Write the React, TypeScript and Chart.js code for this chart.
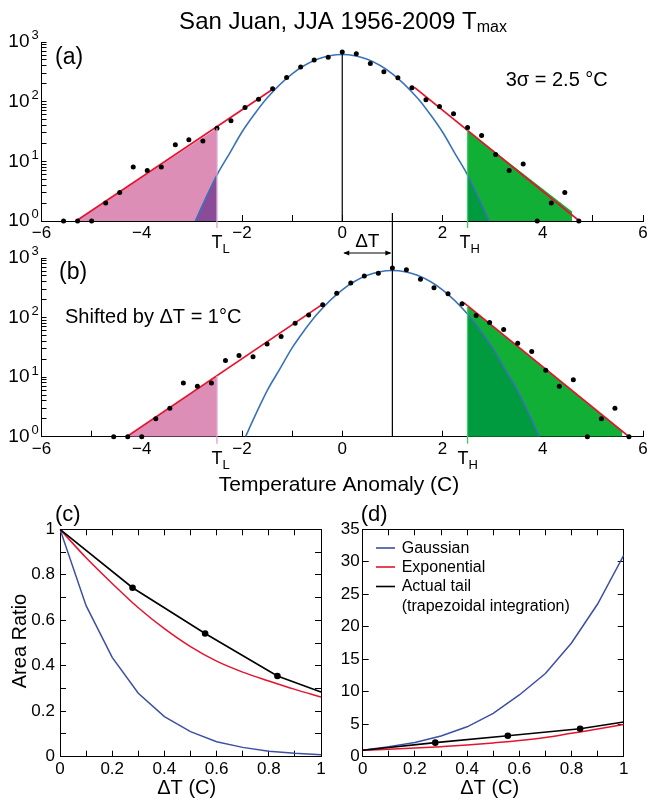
import React, { useEffect, useRef } from 'react';
import { Chart, registerables } from 'chart.js';

Chart.register(...registerables);

const FONT = '"Liberation Sans", Arial, Helvetica, sans-serif';
const BLUE_TOP = '#3A72B8';
const BLUE_BOT = '#3D4FA3';
const RED = '#E5132D';
const PINK = '#DC8EB6';
const PURPLE = '#8A4B98';
const GREEN = '#12AF37';
const DKGREEN = '#009A3F';

// ---------- Panels (a)/(b): JJA Tmax anomaly histogram (bin centre in C, count per bin)
const BIN_CENTERS = [-5.56, -5.28, -5.0, -4.72, -4.44, -4.17, -3.89, -3.61, -3.33, -3.06, -2.78, -2.5, -2.22, -1.94, -1.67, -1.39, -1.11, -0.83, -0.56, -0.28, 0, 0.28, 0.56, 0.83, 1.11, 1.39, 1.67, 1.94, 2.22, 2.5, 2.78, 3.06, 3.33, 3.61, 3.89, 4.17, 4.44, 4.72];
const BIN_COUNTS = [1, 1, 1, 2, 3, 8, 7, 8, 19, 23, 22, 36, 48, 80, 110, 164, 255, 380, 497, 555, 677, 635, 438, 318, 252, 171, 108, 83, 63, 37, 27, 13, 7, 9, 1, 2, 3, 1];

// Gaussian fit (blue), read along the curve of panel (a)
const GAUSS_X = [-2.93, -2.75, -2.5, -2.25, -2, -1.75, -1.5, -1, -0.5, 0, 0.5, 1, 1.5, 1.75, 2, 2.25, 2.5, 2.75, 2.93];
const GAUSS_Y = [1, 2.15, 5.9, 13.5, 31, 62, 115, 292, 512, 617, 512, 292, 115, 62, 31, 13.5, 5.9, 2.15, 1];

// Exponential tail fits (red)
const EXP_A_LEFT_X = [-5.31, -1.35];
const EXP_A_LEFT_Y = [1, 169];
const EXP_A_RIGHT_X = [1.44, 4.73];
const EXP_A_RIGHT_Y = [174, 1];
const EXP_B_LEFT_X = [-4.3, -0.39];
const EXP_B_LEFT_Y = [1, 168];
const EXP_B_RIGHT_X = [2.43, 5.72];
const EXP_B_RIGHT_Y = [177, 1];

// Shaded tail areas
const PINK_A_X = [-5.31, -2.5];
const PINK_A_Y = [1, 36];
const GREEN_A_X = [2.5, 4.59];
const GREEN_A_Y = [33, 1.43];
const PINK_B_X = [-4.3, -2.5];
const PINK_B_Y = [1, 10.5];
const GREEN_B_X = [2.5, 5.59];
const GREEN_B_Y = [158, 1.23];

const T_L = -2.5;
const T_H = 2.5;
const DELTA_T = 1;
const PEAK_LINE_TOP = 677;

const ANOMALY_TICKS = [-6, -4, -2, 0, 2, 4, 6];
const LOG_MINOR_TICKS = [1, 2, 3, 4, 5, 6, 7, 8, 9, 10, 20, 30, 40, 50, 60, 70, 80, 90, 100, 200, 300, 400, 500, 600, 700, 800, 900, 1000];
const LOG_DECADES = [1, 10, 100, 1000];
const DECADE_EXPONENTS = ['0', '1', '2', '3'];

// ---------- Panels (c)/(d): area ratio vs shift
const DT_GRID = [0, 0.1, 0.2, 0.3, 0.4, 0.5, 0.6, 0.7, 0.8, 0.9, 1];
const GAUSS_C = [1, 0.664, 0.437, 0.279, 0.176, 0.11, 0.066, 0.041, 0.0235, 0.0147, 0.009];
const EXP_C = [1, 0.875, 0.762, 0.655, 0.563, 0.484, 0.42, 0.372, 0.333, 0.296, 0.262];
const GAUSS_D = [1, 1.55, 2.2, 3.2, 4.6, 6.67, 9.5, 12.8, 17.5, 23.5, 31.0];
const EXP_D = [1, 1.15, 1.33, 1.55, 1.8, 2.12, 2.48, 2.95, 3.6, 4.25, 4.95];
const ACT_DT = [0, 0.278, 0.556, 0.833, 1];
const ACT_C = [1, 0.743, 0.542, 0.355, 0.284];
const ACT_D = [1, 2.16, 3.23, 4.31, 5.35];
const ACT_POINT_R = [0, 3.3, 3.3, 3.3, 0];
const LEGEND_LABELS = ['Gaussian', 'Exponential', 'Actual tail'];
const LEGEND_NOTE = '(trapezoidal integration)';

const tickFont = { family: FONT, size: 17 };

const xy = (xs: number[], ys: number[]) => xs.map((x, i) => ({ x, y: ys[i] }));

type Run = [string, number, number?];
function drawRuns(ctx: CanvasRenderingContext2D, x: number, y: number, runs: Run[], align: 'left' | 'center' | 'right' = 'left', color = '#000') {
  ctx.save();
  ctx.fillStyle = color;
  ctx.textBaseline = 'alphabetic';
  ctx.textAlign = 'left';
  let total = 0;
  const widths = runs.map(([t, s]) => {
    ctx.font = `${s}px ${FONT}`;
    const w = ctx.measureText(t).width;
    total += w;
    return w;
  });
  let cx = align === 'center' ? x - total / 2 : align === 'right' ? x - total : x;
  runs.forEach(([t, s, dy], i) => {
    ctx.font = `${s}px ${FONT}`;
    ctx.fillText(t, cx, y + (dy || 0));
    cx += widths[i];
  });
  ctx.restore();
}

function drawLogLabels(chart: any) {
  const ys = chart.scales.y;
  const ctx = chart.ctx;
  LOG_DECADES.forEach((v, n) => {
    const py = ys.getPixelForValue(v);
    drawRuns(ctx, 29.5, py + 5.3, [['10', 19]], 'right');
    drawRuns(ctx, 31.5, py - 2.6, [[DECADE_EXPONENTS[n], 13]], 'left');
  });
}

function drawThreshold(chart: any, xv: number, topVal: number, color: string, sub: string, tOffset: number) {
  const ctx = chart.ctx;
  const px = chart.scales.x.getPixelForValue(xv);
  const top = chart.scales.y.getPixelForValue(topVal);
  const bottom = chart.chartArea.bottom;
  ctx.save();
  ctx.strokeStyle = color;
  ctx.lineWidth = 1.3;
  ctx.beginPath();
  ctx.moveTo(px, top);
  ctx.lineTo(px, bottom + 7);
  ctx.stroke();
  ctx.restore();
  drawRuns(ctx, px + tOffset, bottom + 27.3, [['T', 18], [sub, 13, 4.7]]);
}

const fmtSigned = (v: number) => (v < 0 ? '\u2212' + Math.abs(v) : String(v));

function anomalyX(height: number) {
  return {
    type: 'linear',
    min: -6,
    max: 6,
    z: 1,
    ticks: {
      stepSize: 1,
      autoSkip: false,
      maxRotation: 0,
      minRotation: 0,
      padding: 8,
      color: '#000',
      font: tickFont,
      callback: (v: number) => (ANOMALY_TICKS.includes(v) ? fmtSigned(v) : ''),
    },
    grid: { drawOnChartArea: false, tickLength: -6, color: '#000', lineWidth: 1 },
    border: { display: true, color: '#000', width: 1 },
    afterFit: (s: any) => {
      s.height = height;
      s.paddingLeft = 0;
      s.paddingRight = 0;
    },
  };
}

function countsY() {
  return {
    type: 'logarithmic',
    min: 1,
    max: 1000,
    z: 1,
    afterBuildTicks: (s: any) => {
      s.ticks = LOG_MINOR_TICKS.map((v) => ({ value: v }));
    },
    ticks: { display: false },
    grid: { drawOnChartArea: false, tickLength: -5, color: '#000', lineWidth: 1 },
    border: { display: true, color: '#000', width: 1 },
    afterFit: (s: any) => {
      s.width = 41.5;
      s.paddingTop = 0;
      s.paddingBottom = 0;
    },
  };
}

function histDatasets(p: any) {
  const sets: any[] = [
    { data: p.dots, showLine: false, pointRadius: 2.5, pointBackgroundColor: '#000', pointBorderWidth: 0, clip: false },
  ];
  if (p.vline) sets.push({ data: p.vline, borderColor: '#000', borderWidth: 1.2, pointRadius: 0 });
  sets.push(
    { data: p.redL, borderColor: RED, borderWidth: 1.7, pointRadius: 0 },
    { data: p.redR, borderColor: RED, borderWidth: 1.7, pointRadius: 0 },
    { data: p.gauss, borderColor: BLUE_TOP, borderWidth: 1.6, pointRadius: 0, cubicInterpolationMode: 'monotone' },
  );
  if (p.purple) sets.push({ data: p.purple, borderWidth: 0, borderColor: 'rgba(0,0,0,0)', backgroundColor: PURPLE, fill: 'start', pointRadius: 0, cubicInterpolationMode: 'monotone' });
  sets.push(
    { data: p.dkgreen, borderWidth: 0, borderColor: 'rgba(0,0,0,0)', backgroundColor: DKGREEN, fill: 'start', pointRadius: 0, cubicInterpolationMode: 'monotone' },
    { data: p.pink, borderWidth: 0, borderColor: 'rgba(0,0,0,0)', backgroundColor: PINK, fill: 'start', pointRadius: 0 },
    { data: p.green, borderWidth: 0, borderColor: 'rgba(0,0,0,0)', backgroundColor: GREEN, fill: 'start', pointRadius: 0 },
  );
  return sets;
}

function baseOptions(padding: any, scales: any) {
  return {
    animation: false,
    responsive: false,
    devicePixelRatio: 1,
    events: [],
    layout: { padding },
    plugins: { legend: { display: false }, tooltip: { enabled: false }, title: { display: false } },
    scales,
  };
}

function configA() {
  const purple = GAUSS_X.map((x, i) => ({ x, y: GAUSS_Y[i] })).filter((p) => p.x <= T_L);
  const dkgreen = GAUSS_X.map((x, i) => ({ x, y: GAUSS_Y[i] })).filter((p) => p.x >= T_H);
  const ann = {
    id: 'annA',
    afterDatasetsDraw(chart: any) {
      drawThreshold(chart, T_L, PINK_A_Y[1], '#D9A2CE', 'L', -5.5);
      drawThreshold(chart, T_H, GREEN_A_Y[0], '#43C963', 'H', -8);
    },
    afterDraw(chart: any) {
      const ctx = chart.ctx;
      drawRuns(ctx, 343, 28.7, [['San Juan, JJA 1956-2009 T', 24], ['max', 16, 3.5]], 'center');
      drawRuns(ctx, 55, 63.5, [['(a)', 23]]);
      drawRuns(ctx, 505.7, 86, [['3\u03c3 = 2.5 \u00b0C', 20]]);
      drawLogLabels(chart);
    },
  };
  return {
    type: 'line',
    data: {
      datasets: histDatasets({
        dots: xy(BIN_CENTERS, BIN_COUNTS),
        vline: [{ x: 0, y: 1 }, { x: 0, y: PEAK_LINE_TOP }],
        redL: xy(EXP_A_LEFT_X, EXP_A_LEFT_Y),
        redR: xy(EXP_A_RIGHT_X, EXP_A_RIGHT_Y),
        gauss: xy(GAUSS_X, GAUSS_Y),
        purple,
        dkgreen,
        pink: xy(PINK_A_X, PINK_A_Y),
        green: xy(GREEN_A_X, GREEN_A_Y),
      }),
    },
    options: baseOptions({ left: 0, right: 2, top: 42, bottom: 0 }, { x: anomalyX(260 - 221), y: countsY() }),
    plugins: [ann],
  };
}

function configB() {
  const gx = GAUSS_X.map((x) => x + DELTA_T);
  const dkgreen = gx.map((x, i) => ({ x, y: GAUSS_Y[i] })).filter((p) => p.x >= T_H);
  const ann = {
    id: 'annB',
    afterDatasetsDraw(chart: any) {
      const ctx = chart.ctx;
      const xs = chart.scales.x;
      const ys = chart.scales.y;
      drawThreshold(chart, T_L, PINK_B_Y[1], '#D9A2CE', 'L', -5.5);
      drawThreshold(chart, T_H, GREEN_B_Y[0], '#43C963', 'H', -10);
      // shifted-mean vertical line
      const px1 = xs.getPixelForValue(DELTA_T);
      const px0 = xs.getPixelForValue(0);
      ctx.save();
      ctx.strokeStyle = '#000';
      ctx.lineWidth = 1.2;
      ctx.beginPath();
      ctx.moveTo(px1, ys.getPixelForValue(1));
      ctx.lineTo(px1, chart.chartArea.top - 45);
      ctx.stroke();
      // delta-T arrow
      const ay = chart.chartArea.top - 5;
      ctx.lineWidth = 1;
      ctx.beginPath();
      ctx.moveTo(px0 + 2, ay);
      ctx.lineTo(px1 - 2, ay);
      ctx.stroke();
      ctx.fillStyle = '#000';
      ctx.beginPath();
      ctx.moveTo(px0 + 1, ay);
      ctx.lineTo(px0 + 7, ay - 2.5);
      ctx.lineTo(px0 + 7, ay + 2.5);
      ctx.closePath();
      ctx.fill();
      ctx.beginPath();
      ctx.moveTo(px1 - 1, ay);
      ctx.lineTo(px1 - 7, ay - 2.5);
      ctx.lineTo(px1 - 7, ay + 2.5);
      ctx.closePath();
      ctx.fill();
      ctx.restore();
      drawRuns(ctx, (px0 + px1) / 2, 42.3, [['\u0394T', 19]], 'center');
    },
    afterDraw(chart: any) {
      const ctx = chart.ctx;
      drawRuns(ctx, 59, 74, [['(b)', 23]]);
      drawRuns(ctx, 65, 117.7, [['Shifted by \u0394T = 1\u00b0C', 20]]);
      drawRuns(ctx, 339, 286, [['Temperature Anomaly (C)', 21]], 'center');
      drawLogLabels(chart);
    },
  };
  return {
    type: 'line',
    data: {
      datasets: histDatasets({
        dots: BIN_CENTERS.map((x, i) => ({ x: x + DELTA_T, y: BIN_COUNTS[i] })),
        redL: xy(EXP_B_LEFT_X, EXP_B_LEFT_Y),
        redR: xy(EXP_B_RIGHT_X, EXP_B_RIGHT_Y),
        gauss: xy(gx, GAUSS_Y),
        dkgreen,
        pink: xy(PINK_B_X, PINK_B_Y),
        green: xy(GREEN_B_X, GREEN_B_Y),
      }),
    },
    options: baseOptions({ left: 0, right: 2, top: 53, bottom: 0 }, { x: anomalyX(295 - 231.7), y: countsY() }),
    plugins: [ann],
  };
}

const dtLabel = (v: number) => {
  const k = Math.round(v * 10);
  if (k % 2 !== 0) return '';
  if (k === 0) return '0';
  if (k === 10) return '1';
  return (k / 10).toFixed(1);
};

function ratioScales(yMax: number, yStep: number, yLabel: (v: number) => string, yWidth: number, xHeight: number, yPad: number) {
  const grid = () => ({ drawOnChartArea: false, tickLength: -6, color: '#000', lineWidth: 1 });
  const border = () => ({ display: true, color: '#000', width: 1 });
  return {
    x: {
      type: 'linear', position: 'bottom', min: 0, max: 1, z: 1,
      ticks: { stepSize: 0.1, autoSkip: false, maxRotation: 0, minRotation: 0, padding: 8, color: '#000', font: tickFont, callback: dtLabel },
      grid: grid(), border: border(),
      afterFit: (s: any) => { s.height = xHeight; s.paddingLeft = 0; s.paddingRight = 0; },
    },
    x2: {
      type: 'linear', position: 'top', min: 0, max: 1, z: 1,
      ticks: { stepSize: 0.1, display: false, autoSkip: false },
      grid: grid(), border: border(),
      afterFit: (s: any) => { s.height = 0; s.paddingLeft = 0; s.paddingRight = 0; },
    },
    y: {
      type: 'linear', position: 'left', min: 0, max: yMax, z: 1,
      ticks: { stepSize: yStep, autoSkip: false, padding: yPad, color: '#000', font: tickFont, callback: yLabel },
      grid: grid(), border: border(),
      afterFit: (s: any) => { s.width = yWidth; s.paddingTop = 0; s.paddingBottom = 0; },
    },
    y2: {
      type: 'linear', position: 'right', min: 0, max: yMax, z: 1,
      ticks: { stepSize: yStep, display: false, autoSkip: false },
      grid: grid(), border: border(),
      afterFit: (s: any) => { s.width = 0; s.paddingTop = 0; s.paddingBottom = 0; },
    },
  };
}

function ratioDatasets(gauss: number[], exp: number[], act: number[]) {
  return [
    { label: LEGEND_LABELS[2], data: xy(ACT_DT, act), borderColor: '#000', backgroundColor: '#000', borderWidth: 1.6, pointRadius: ACT_POINT_R, pointBackgroundColor: '#000', pointBorderWidth: 0, clip: false },
    { label: LEGEND_LABELS[1], data: xy(DT_GRID, exp), borderColor: RED, borderWidth: 1.5, pointRadius: 0, cubicInterpolationMode: 'monotone' },
    { label: LEGEND_LABELS[0], data: xy(DT_GRID, gauss), borderColor: BLUE_BOT, borderWidth: 1.5, pointRadius: 0 },
  ];
}

function configC() {
  const ann = {
    id: 'annC',
    afterDraw(chart: any) {
      const ctx = chart.ctx;
      drawRuns(ctx, 55, 30.6, [['(c)', 22]]);
      drawRuns(ctx, 186.7, 304, [['\u0394T (C)', 20]], 'center');
      ctx.save();
      ctx.translate(26, 151);
      ctx.rotate(-Math.PI / 2);
      drawRuns(ctx, 0, 0, [['Area Ratio', 20]], 'center');
      ctx.restore();
    },
  };
  return {
    type: 'line',
    data: { datasets: ratioDatasets(GAUSS_C, EXP_C, ACT_C) },
    options: baseOptions({ left: 0, right: 9, top: 39.3, bottom: 0 }, ratioScales(1, 0.1, dtLabel, 60, 316 - 266.7, 11)),
    plugins: [ann],
  };
}

function configD() {
  const ann = {
    id: 'annD',
    afterDraw(chart: any) {
      const ctx = chart.ctx;
      drawRuns(ctx, 30.7, 30.6, [['(d)', 22]]);
      drawRuns(ctx, 159.7, 304, [['\u0394T (C)', 20]], 'center');
      const rows = [58, 77, 96.5];
      const order = [2, 1, 0];
      ctx.save();
      order.forEach((di, r) => {
        const ds = chart.data.datasets[di];
        ctx.strokeStyle = ds.borderColor;
        ctx.lineWidth = 1.6;
        ctx.beginPath();
        ctx.moveTo(46, rows[r]);
        ctx.lineTo(65, rows[r]);
        ctx.stroke();
        ctx.font = `16px ${FONT}`;
        ctx.fillStyle = '#000';
        ctx.textBaseline = 'middle';
        ctx.textAlign = 'left';
        ctx.fillText(ds.label, 71.7, rows[r] + 0.5);
      });
      ctx.fillText(LEGEND_NOTE, 71.7, 117);
      ctx.restore();
    },
  };
  return {
    type: 'line',
    data: { datasets: ratioDatasets(GAUSS_D, EXP_D, ACT_D) },
    options: baseOptions({ left: 0, right: 23.3, top: 39.3, bottom: 0 }, ratioScales(35, 5, (v: number) => String(v), 32.7, 316 - 266.7, 9)),
    plugins: [ann],
  };
}

export default function App() {
  const a = useRef<HTMLCanvasElement>(null);
  const b = useRef<HTMLCanvasElement>(null);
  const c = useRef<HTMLCanvasElement>(null);
  const d = useRef<HTMLCanvasElement>(null);

  useEffect(() => {
    document.body.style.margin = '0';
    const charts = [
      new Chart(a.current as HTMLCanvasElement, configA() as any),
      new Chart(b.current as HTMLCanvasElement, configB() as any),
      new Chart(c.current as HTMLCanvasElement, configC() as any),
      new Chart(d.current as HTMLCanvasElement, configD() as any),
    ];
    return () => charts.forEach((ch) => ch.destroy());
  }, []);

  const abs = (left: number, top: number, w: number, h: number): React.CSSProperties => ({ position: 'absolute', left, top, width: w, height: h });

  return (
    <div style={{ position: 'relative', width: 647, height: 806, background: '#fff', overflow: 'hidden' }}>
      <canvas ref={a} width={647} height={260} style={abs(0, 0, 647, 260)} />
      <canvas ref={b} width={647} height={295} style={abs(0, 205, 647, 295)} />
      <canvas ref={c} width={330} height={316} style={abs(0, 490, 330, 316)} />
      <canvas ref={d} width={317} height={316} style={abs(330, 490, 317, 316)} />
    </div>
  );
}
